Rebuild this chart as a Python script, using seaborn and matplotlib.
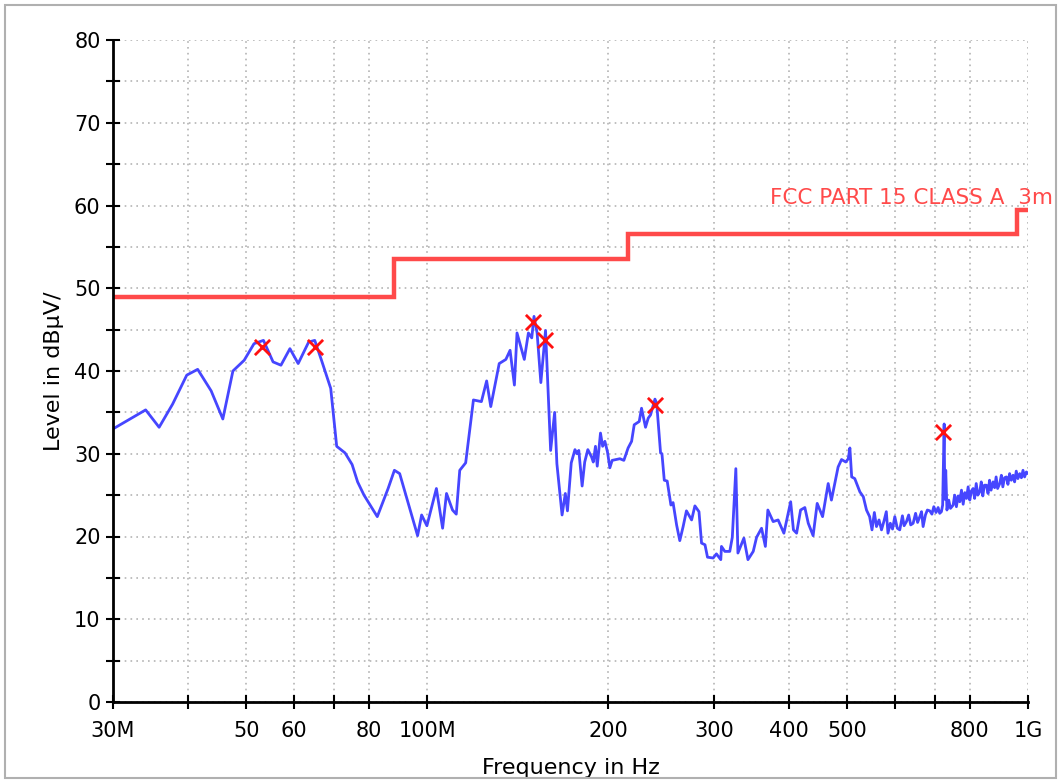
import matplotlib
matplotlib.use("Agg")
import matplotlib.pyplot as plt
import matplotlib.ticker as mticker
from matplotlib.patches import Rectangle
import seaborn as sns
import pandas as pd

# measured trace (MHz, dBuV/m)
freq_mhz = [
    30.0, 34.0, 35.8, 37.7, 39.8, 41.5, 43.7, 45.7, 47.5, 49.6, 51.5, 53.4, 55.4, 57.1,
    59.1, 61.0, 63.5, 65.0, 66.7, 69.1, 70.7, 73.0, 75.0, 76.6, 78.5, 82.6, 86.1, 88.2,
    90.0, 96.4, 97.9, 99.9, 103.6, 106.1, 107.7, 110.2, 111.8, 113.3, 115.9, 119.4,
    123.1, 125.6, 127.6, 131.8, 135.2, 137.4, 139.7, 141.1, 145.1, 147.4, 149.3, 150.6,
    152.4, 154.6, 157.4, 160.5, 163.0, 164.4, 167.7, 169.8, 171.2, 173.7, 176.2, 177.6,
    178.8, 181.1, 182.9, 185.1, 187.8, 189.0, 190.6, 191.9, 194.3, 195.9, 197.6, 199.6,
    201.4, 203.2, 209.3, 212.5, 216.0, 218.9, 221.1, 225.4, 227.4, 230.9, 233.3, 235.4,
    239.4, 241.0, 244.6, 245.9, 248.1, 250.9, 254.5, 256.6, 260.1, 263.3, 266.7, 270.1,
    275.5, 279.0, 283.4, 286.2, 290.0, 292.8, 299.2, 303.0, 308.1, 308.9, 312.9, 318.9,
    322.0, 326.4, 329.0, 336.6, 341.9, 348.9, 353.4, 360.2, 365.5, 369.0, 376.6, 383.8,
    392.4, 402.7, 407.0, 412.0, 418.3, 425.2, 430.8, 438.9, 445.8, 455.1, 465.0, 470.8,
    483.0, 489.4, 497.5, 502.2, 505.3, 508.8, 514.8, 525.0, 532.0, 538.5, 545.0, 550.0,
    555.0, 559.5, 565.0, 570.4, 576.0, 581.0, 584.7, 590.0, 595.0, 600.2, 606.0, 611.7,
    618.0, 622.0, 627.7, 633.0, 638.0, 643.9, 650.0, 655.0, 660.6, 665.0, 669.0, 675.0,
    680.0, 686.4, 692.0, 697.0, 703.0, 708.6, 713.0, 717.6, 721.0, 725.2, 727.0, 729.6,
    733.0, 738.0, 743.0, 750.6, 755.0, 760.0, 765.0, 769.9, 775.0, 780.0, 785.0, 790.0,
    795.0, 800.0, 805.0, 810.3, 815.0, 820.0, 825.0, 831.2, 836.0, 841.0, 846.0, 852.7,
    858.0, 863.0, 868.0, 874.8, 880.0, 885.0, 890.0, 897.4, 903.0, 908.0, 914.0, 920.6,
    926.0, 932.0, 938.0, 944.4, 950.0, 956.0, 962.0, 968.8, 975.0, 981.0, 987.0, 993.8,
    1000.0,
]
level_dbuv = [
    33.0, 35.3, 33.2, 36.0, 39.5, 40.2, 37.6, 34.2, 40.0, 41.3, 43.3, 43.7, 41.1, 40.7,
    42.7, 40.9, 43.5, 43.7, 41.3, 37.9, 30.9, 30.1, 28.7, 26.6, 25.0, 22.4, 25.8, 28.0,
    27.6, 20.1, 22.6, 21.3, 25.8, 21.0, 25.2, 23.2, 22.7, 28.0, 28.9, 36.5,
    36.3, 38.8, 35.7, 40.9, 41.4, 42.5, 38.3, 44.6, 41.4, 44.6, 44.0, 46.6,
    44.6, 38.6, 44.9, 30.4, 35.0, 28.8, 22.6, 25.2, 23.1, 28.9, 30.5, 30.0,
    30.4, 26.1, 29.0, 30.5, 29.6, 29.0, 30.9, 28.5, 32.5, 30.9, 31.5, 30.2,
    28.3, 29.2, 29.4, 29.2, 30.7, 31.5, 33.5, 33.9, 35.5, 33.2, 34.3, 34.7,
    36.6, 36.1, 30.1, 30.0, 26.8, 26.7, 23.8, 24.1, 21.4, 19.5, 21.2, 23.1,
    22.0, 23.7, 23.0, 19.2, 19.0, 17.5, 17.4, 17.9, 17.2, 18.8, 18.2, 18.2,
    19.9, 28.2, 18.0, 19.8, 17.2, 18.2, 19.9, 21.0, 18.8, 23.2, 21.8, 22.0,
    20.4, 24.2, 20.8, 20.4, 23.2, 23.5, 21.6, 20.1, 24.0, 22.4, 26.4, 24.4,
    28.4, 29.3, 29.0, 29.4, 30.7, 27.2, 27.0, 25.4, 24.8, 23.2, 22.4, 20.8,
    22.9, 21.2, 22.0, 20.8, 21.9, 23.0, 20.4, 21.6, 20.9, 22.4, 21.0, 20.8,
    22.5, 21.3, 21.8, 22.6, 21.4, 21.6, 22.8, 21.7, 22.4, 23.0, 21.2, 22.6,
    23.2, 23.1, 22.7, 23.6, 22.9, 23.5, 22.8, 23.0, 23.8, 33.6, 24.5, 28.0,
    23.2, 24.4, 23.4, 23.8, 25.0, 23.6, 24.9, 24.2, 25.6, 23.9, 25.3, 24.6,
    26.0, 24.4, 25.5, 25.8, 24.6, 26.4, 25.0, 25.4, 26.6, 24.9, 26.2, 26.2,
    25.2, 26.8, 25.6, 26.6, 25.9, 27.2, 25.8, 26.4, 27.4, 26.0, 27.1, 27.2,
    26.3, 27.6, 26.8, 27.4, 26.6, 27.9, 27.0, 27.6, 27.1, 28.0, 27.2, 27.8,
    27.6,
]

# final peaks
peak_freq = [53.2, 65.0, 149.9, 157.0, 239.0, 723.0]
peak_level = [42.9, 42.9, 45.9, 43.7, 35.9, 32.6]

# FCC Part 15 class A, 3 m limit
limit_edges = [30, 88, 216, 960, 1000]
limit_levels = [49.0, 53.5, 56.5, 59.5]

xtick_pos = [30, 50, 60, 80, 100, 200, 300, 400, 500, 800, 1000]
xtick_lab = ["30M", "50", "60", "80", "100M", "200", "300", "400", "500", "800", "1G"]
xtick_minor = [40, 70, 600, 700]

sns.set_style("white")
plt.rcParams["font.family"] = ["DejaVu Sans"]
plt.rcParams["text.color"] = "black"
plt.rcParams["axes.labelcolor"] = "black"
plt.rcParams["xtick.labelcolor"] = "black"
plt.rcParams["ytick.labelcolor"] = "black"

trace = pd.DataFrame({"freq": freq_mhz, "level": level_dbuv})
peaks = pd.DataFrame({"freq": peak_freq, "level": peak_level})

fig = plt.figure(figsize=(10.61, 7.8), dpi=100)
ax = fig.add_axes([113 / 1061, 1 - 702 / 780, (1028 - 113) / 1061, (702 - 40) / 780])

ax.set_xscale("log")
ax.set_xlim(30, 1000)
ax.set_ylim(0, 80)

ax.grid(True, which="both", linestyle=(0, (1, 2.5)), color="#b4b4b4", linewidth=1.2)

sns.lineplot(data=trace, x="freq", y="level", ax=ax, color="#4646ff",
             linewidth=2, estimator=None, sort=False)
ax.stairs(limit_levels, limit_edges, baseline=None, color="#ff4a4a", linewidth=3.2)
sns.scatterplot(data=peaks, x="freq", y="level", ax=ax, marker="x", color="#ff1010",
                s=120, linewidth=2, zorder=5)

ax.text(372, 60.9, "FCC PART 15 CLASS A  3m", color="#ff4a4a", fontsize=15.5,
        ha="left", va="center", clip_on=False)

ax.xaxis.set_major_locator(mticker.FixedLocator(xtick_pos))
ax.xaxis.set_major_formatter(mticker.FixedFormatter(xtick_lab))
ax.xaxis.set_minor_locator(mticker.FixedLocator(xtick_minor))
ax.xaxis.set_minor_formatter(mticker.NullFormatter())
ax.yaxis.set_major_locator(mticker.MultipleLocator(10))
ax.yaxis.set_minor_locator(mticker.MultipleLocator(5))

ax.tick_params(which="both", direction="inout", length=10, width=1.5, color="black",
               labelcolor="black", labelsize=15, left=True, bottom=True)
ax.tick_params(axis="x", pad=9)
ax.tick_params(axis="y", pad=4)

for side in ["top", "right"]:
    ax.spines[side].set_visible(False)
for side in ["left", "bottom"]:
    ax.spines[side].set_linewidth(2)
    ax.spines[side].set_color("black")

ax.set_xlabel("Frequency in Hz", fontsize=16, color="black")
ax.set_ylabel("Level in dBµV/", fontsize=16, color="black")
ax.xaxis.set_label_coords(0.5, -0.085)
ax.yaxis.set_label_coords(-0.054, 0.5)

fig.patches.append(Rectangle((5 / 1061, 0.003), 1051 / 1061, 0.99, transform=fig.transFigure,
                             fill=False, edgecolor="#b0b0b0", linewidth=1.5))

fig.savefig("out.png", dpi=100)
